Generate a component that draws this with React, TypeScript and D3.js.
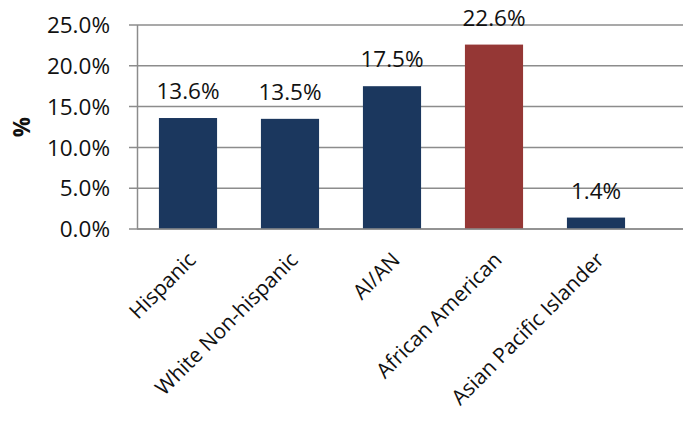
import React from "react";
import * as d3 from "d3";

// Share by group
const categories = ["Hispanic", "White Non-hispanic", "AI/AN", "African American", "Asian Pacific Islander"];
const values = [0.136, 0.135, 0.175, 0.226, 0.014];
const highlight = ["African American"];
const yTicks = [0, 0.05, 0.1, 0.15, 0.2, 0.25];

const width = 693;
const height = 424;
const font = "'Open Sans', sans-serif";
const fs = 22.5;

export default function App() {
  const x = d3.scaleBand<string>().domain(categories).range([137, 647]).paddingInner(0.43).paddingOuter(0.215);
  const y = d3.scaleLinear().domain([0, 0.25]).range([229, 25]);
  const fmt = d3.format(".1%");
  const gridRight = 683;

  return (
    <svg width={width} height={height} style={{ position: "absolute", left: 0, top: 0, background: "#fff" }}
      fontFamily={font}>
      {yTicks.map(t => (
        <g key={t}>
          <line x1={129} x2={gridRight} y1={y(t)} y2={y(t)} stroke="#8c8c8c" strokeWidth={1.5} />
          <text x={110} y={y(t)} dy="0.36em" textAnchor="end" fontSize={fs} fill="#111">{fmt(t)}</text>
        </g>
      ))}
      <line x1={137.5} x2={137.5} y1={y(0.25)} y2={y(0)} stroke="#8c8c8c" strokeWidth={1.5} />
      {categories.map((c, i) => (
        <g key={c}>
          <rect x={x(c)} width={x.bandwidth()} y={y(values[i])} height={y(0) - y(values[i])}
            fill={highlight.includes(c) ? "#953735" : "#1b375e"} />
          <text x={(x(c) ?? 0) + x.bandwidth() / 2} y={y(values[i]) - 19} textAnchor="middle" fontSize={fs} fill="#111">
            {fmt(values[i])}
          </text>
          <text transform={`translate(${(x(c) ?? 0) + x.bandwidth() / 2 + 4},${y(0) + 27}) rotate(-45)`}
            textAnchor="end" dy="0.35em" fontSize={21} fill="#111">{c}</text>
        </g>
      ))}
      <line x1={137} x2={gridRight} y1={y(0)} y2={y(0)} stroke="#8c8c8c" strokeWidth={1.5} />
      <text transform={`translate(22,${(y(0) + y(0.25)) / 2}) rotate(-90)`} textAnchor="middle" dy="0.35em"
        fontSize={fs} fontWeight="bold" fill="#111">%</text>
    </svg>
  );
}
